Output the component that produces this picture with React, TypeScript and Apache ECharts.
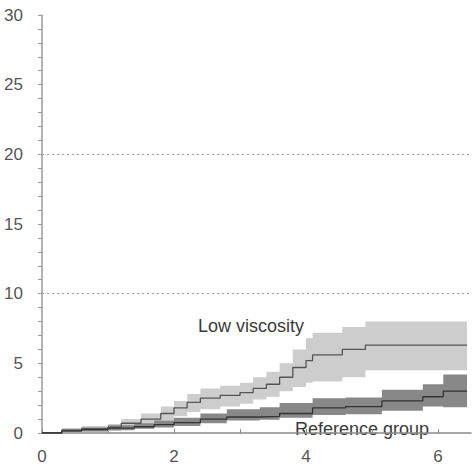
import React, { useEffect, useRef } from "react";
import * as echarts from "echarts";

// Low viscosity group: step times, estimate, lower and upper confidence bounds
const lowT = [0, 0.3, 0.6, 1.0, 1.2, 1.5, 1.8, 2.0, 2.2, 2.4, 2.7, 3.0, 3.2, 3.4, 3.6, 3.8, 4.0, 4.1, 4.55, 4.9, 6.44];
const lowEst = [0, 0.2, 0.3, 0.4, 0.7, 1.0, 1.4, 1.8, 2.2, 2.5, 2.7, 2.9, 3.2, 3.5, 4.0, 4.7, 5.2, 5.6, 6.0, 6.3, 6.3];
const lowLo = [0, 0.05, 0.1, 0.15, 0.35, 0.6, 0.9, 1.2, 1.5, 1.7, 1.9, 2.1, 2.4, 2.6, 3.0, 3.3, 3.6, 3.7, 4.0, 4.5, 4.5];
const lowHi = [0, 0.35, 0.5, 0.65, 1.0, 1.4, 1.9, 2.3, 2.8, 3.2, 3.4, 3.6, 4.0, 4.4, 5.0, 6.0, 6.8, 7.2, 7.6, 8.0, 8.0];

// Reference group
const refT = [0, 0.3, 0.6, 1.0, 1.4, 1.7, 2.0, 2.4, 2.8, 3.3, 3.6, 4.1, 4.6, 5.15, 5.77, 6.08, 6.44];
const refEst = [0, 0.15, 0.25, 0.35, 0.45, 0.6, 0.75, 1.0, 1.15, 1.2, 1.4, 1.8, 1.9, 2.3, 2.6, 3.0, 3.0];
const refLo = [0, 0.05, 0.1, 0.2, 0.3, 0.4, 0.5, 0.7, 0.9, 0.95, 1.1, 1.3, 1.35, 1.6, 1.9, 1.85, 1.85];
const refHi = [0, 0.25, 0.4, 0.55, 0.7, 0.9, 1.1, 1.4, 1.7, 1.85, 2.15, 2.5, 2.55, 3.1, 3.5, 4.2, 4.2];

const gridLines = [10, 20];
const labelLow = "Low viscosity";
const labelRef = "Reference group";

const pairs = (t: number[], v: number[]) => t.map((x, i) => [x, v[i]]);

// Step-shaped confidence band drawn as a polygon through the chart's own coordinate system
function bandSeries(t: number[], lo: number[], hi: number[], color: string, z: number) {
  return {
    type: "custom",
    z,
    silent: true,
    data: t.map((x, i) => [x, lo[i], hi[i]]),
    encode: { x: 0, y: [1, 2] },
    renderItem: (params: any, api: any) => {
      if (params.dataIndex !== 0) return null;
      const top: number[][] = [];
      const bottom: number[][] = [];
      for (let i = 0; i < t.length; i++) {
        const nextT = i < t.length - 1 ? t[i + 1] : t[i];
        top.push(api.coord([t[i], hi[i]]));
        top.push(api.coord([nextT, hi[i]]));
        bottom.push(api.coord([t[i], lo[i]]));
        bottom.push(api.coord([nextT, lo[i]]));
      }
      const points = top.concat(bottom.reverse());
      return {
        type: "polygon",
        shape: { points },
        style: { fill: color, stroke: null },
      };
    },
  };
}

export default function App() {
  const ref = useRef<HTMLDivElement>(null);
  useEffect(() => {
    if (!ref.current) return;
    const chart = echarts.init(ref.current, null, { renderer: "svg" });
    const font = "Liberation Sans, Arial, sans-serif";
    chart.setOption({
      animation: false,
      backgroundColor: "#ffffff",
      grid: { left: 42, right: 3, top: 15, bottom: 36 },
      xAxis: {
        type: "value",
        min: 0,
        max: 6.5,
        interval: 1,
        axisLine: { lineStyle: { color: "#8a8a8a", width: 1.5 } },
        axisTick: { inside: true, length: 4, lineStyle: { color: "#8a8a8a" } },
        axisLabel: {
          margin: 15,
          fontSize: 17,
          fontFamily: font,
          color: "#555",
          showMaxLabel: false,
          formatter: (v: number) => (v % 2 === 0 ? String(v) : ""),
        },
        splitLine: { show: false },
      },
      yAxis: {
        type: "value",
        min: 0,
        max: 30,
        interval: 5,
        axisLine: { show: true, lineStyle: { color: "#9a9a9a", width: 1.5 } },
        axisTick: { show: true, length: 4, lineStyle: { color: "#9a9a9a" } },
        minorTick: { show: true, splitNumber: 5, length: 4, lineStyle: { color: "#9a9a9a" } },
        axisLabel: { margin: 19, fontSize: 17, fontFamily: font, color: "#555" },
        splitLine: { show: false },
      },
      series: [
        bandSeries(lowT, lowLo, lowHi, "#cdcdcd", 1),
        bandSeries(refT, refLo, refHi, "#888888", 2),
        {
          type: "line",
          name: "Low viscosity",
          step: "end",
          symbol: "none",
          lineStyle: { color: "#555555", width: 1.3 },
          data: pairs(lowT, lowEst),
          z: 3,
          markLine: {
            silent: true,
            symbol: "none",
            label: { show: false },
            lineStyle: { type: [2, 3], color: "#9a9a9a", width: 1 },
            data: gridLines.map((y) => ({ yAxis: y })),
          },
        },
        {
          type: "line",
          name: "Reference group",
          step: "end",
          symbol: "none",
          lineStyle: { color: "#333333", width: 1.3 },
          data: pairs(refT, refEst),
          z: 3,
        },
      ],
      graphic: [
        {
          type: "text",
          x: 251,
          y: 326,
          style: {
            text: labelLow,
            font: `18px ${font}`,
            fill: "#3a3a3a",
            textAlign: "center",
            textVerticalAlign: "middle",
          },
        },
        {
          type: "text",
          x: 362,
          y: 429,
          style: {
            text: labelRef,
            font: `18px ${font}`,
            fill: "#3a3a3a",
            textAlign: "center",
            textVerticalAlign: "middle",
          },
        },
      ],
    });
    return () => chart.dispose();
  }, []);
  return (
    <div
      ref={ref}
      style={{ position: "fixed", left: 0, top: 0, width: 474, height: 469 }}
    />
  );
}
